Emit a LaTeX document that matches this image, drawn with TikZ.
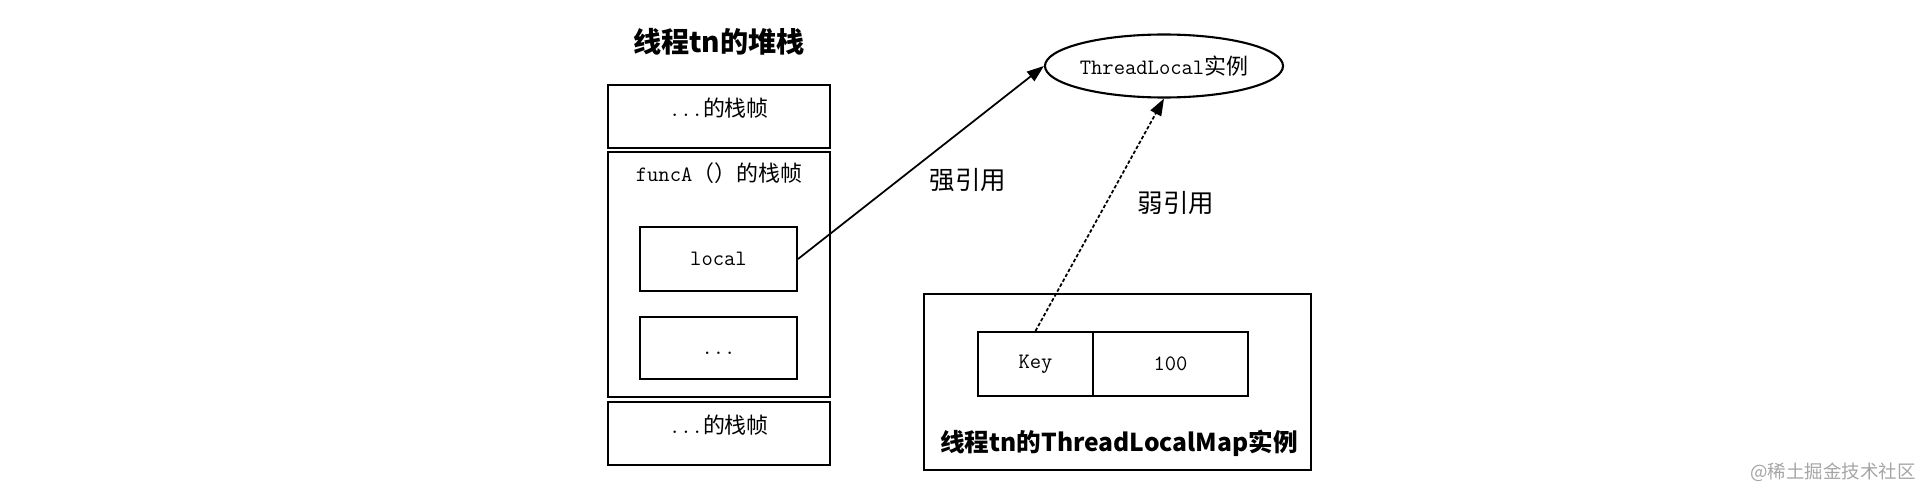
\documentclass[tikz,border=0pt]{standalone}
\usepackage{fontspec}
\setmainfont{Noto Sans CJK SC}
\usetikzlibrary{arrows.meta}
\usetikzlibrary{shapes.geometric, math}
\definecolor{mygray}{RGB}{165,165,165}

\begin{document}
\begin{tikzpicture}[x=0.02cm, y=-0.02cm,
  box/.style={draw, line width=1.2pt, inner sep=0pt},
  txt/.style={font=\fontsize{12.5}{15}\selectfont, inner sep=0pt},
  title/.style={font=\fontsize{16}{19}\bfseries\selectfont, inner sep=0pt},
  ref/.style={-{Triangle[length=3.4mm, width=2.4mm]}, line width=1pt}]
\tikzmath{
\xs=719;
\xm=1117.5;
}
\useasboundingbox (0,0) rectangle (1930,500);

% thread stack
\node[title] (stacktitle) at (\xs,42) {线程tn的堆栈};
\node[box, minimum width=4.44cm, minimum height=1.26cm] (frametop) at (\xs,116.5) {};
\node[txt] (frametoptxt) at (\xs,108) {\ttfamily...\rmfamily 的栈帧};
\node[box, minimum width=4.44cm, minimum height=4.9cm] (framea) at (\xs,274.5) {};
\node[txt] (frameatxt) at (\xs,173) {\ttfamily funcA\rmfamily（）的栈帧};
\node[box, minimum width=3.14cm, minimum height=1.28cm, txt] (local) at (718.5,259) {\ttfamily local};
\node[box, minimum width=3.14cm, minimum height=1.24cm] (dots) at (718.5,348) {};
\node[txt] (dotstxt) at (718.5,353) {\ttfamily ...};
\node[box, minimum width=4.44cm, minimum height=1.26cm] (framebot) at (\xs,433.5) {};
\node[txt] (framebottxt) at (\xs,425) {\ttfamily...\rmfamily 的栈帧};

% ThreadLocal instance
\node[ellipse, box, minimum width=4.44cm, minimum height=1.26cm, txt] (tl) at (1164,66) {\ttfamily ThreadLocal\rmfamily 实例};

% ThreadLocalMap
\node[box, minimum width=7.74cm, minimum height=3.52cm] (map) at (\xm,382) {};
\node[box, minimum width=2.3cm, minimum height=1.28cm, txt] (key) at (1035.5,364) {\ttfamily Key};
\node[box, minimum width=3.1cm, minimum height=1.28cm, txt] (val) at (1170.5,364) {\ttfamily 100};
\node[title, font=\fontsize{14}{17}\bfseries\selectfont] (maptitle) at (1119,443) {线程tn的ThreadLocalMap实例};

% references
\draw[ref] (local.east) -- (tl.west);
\draw[ref, dash pattern=on 2pt off 1.2pt] (key.north) -- (tl.south);
\node[txt, font=\fontsize{14.5}{17}\selectfont] (strong) at (968,180) {强引用};
\node[txt, font=\fontsize{14.5}{17}\selectfont] (weak) at (1176,203) {弱引用};

\node[txt, font=\fontsize{10.5}{12}\selectfont, text=mygray] (mark) at (1833,472) {@稀土掘金技术社区};
\end{tikzpicture}
\end{document}
